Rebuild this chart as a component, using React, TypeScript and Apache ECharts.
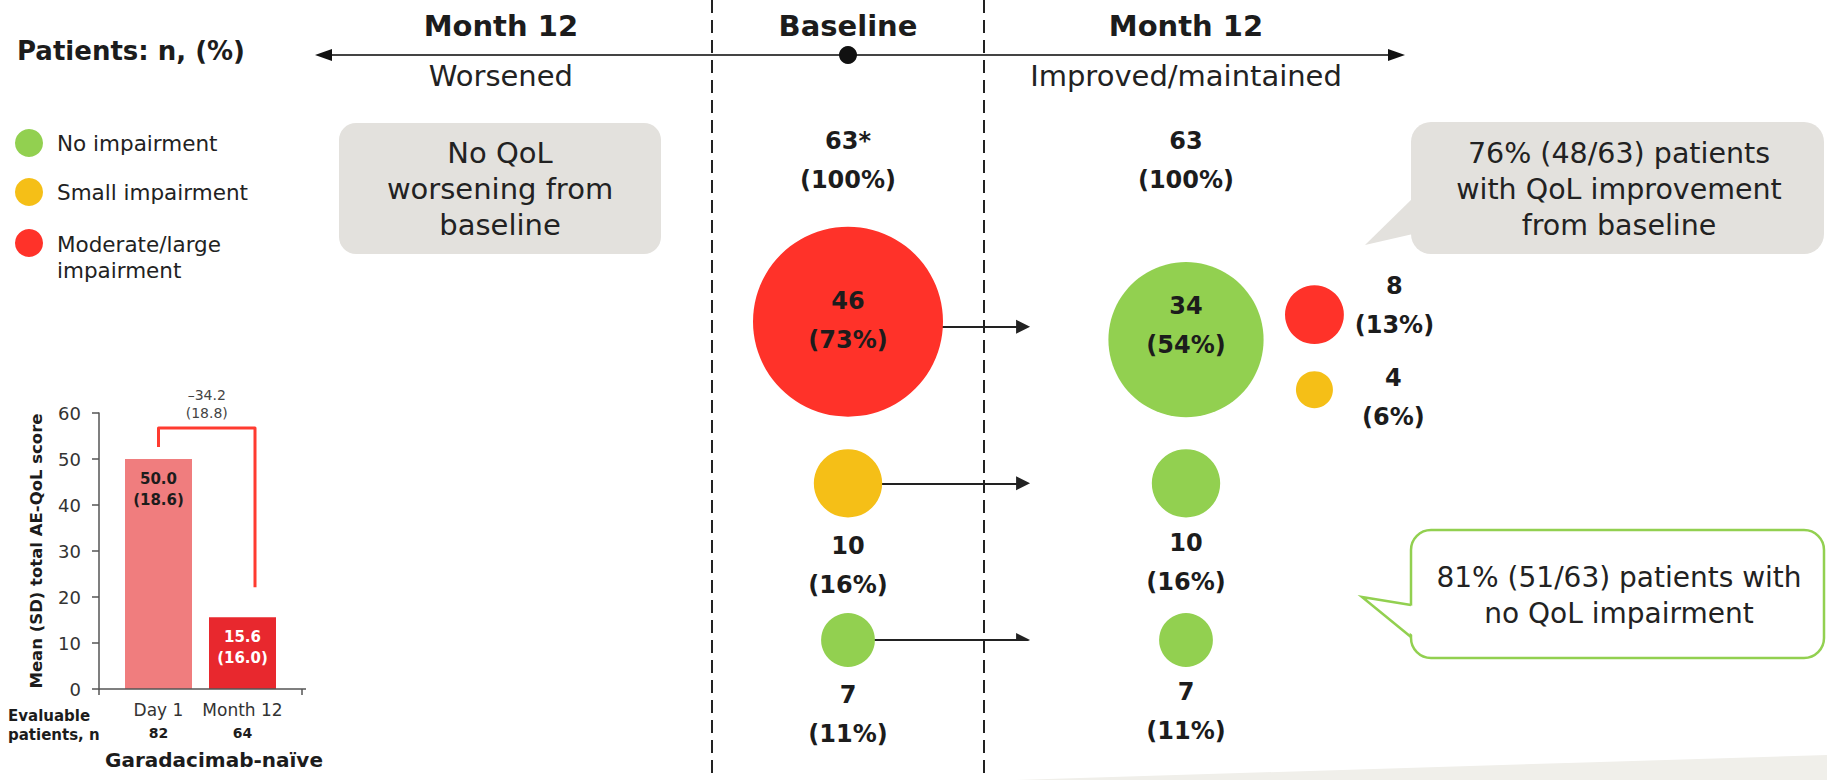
import React, { useEffect, useRef } from 'react';
import * as echarts from 'echarts';

const FONT = "'DejaVu Sans', 'Open Sans', sans-serif";
const INK = '#1c1c1c';

// ---------------- Data ----------------
const levelNames = ['No impairment', 'Small impairment', 'Moderate/large\nimpairment'];
const totalN = [63, 63];
const totalPct = [100, 100];
const totalMarks = ['*', ''];
// Baseline groups (rows): moderate/large, small, none
const baselineN = [46, 10, 7];
const baselinePct = [73, 16, 11];
const baselineLevel = [2, 1, 0];
// Month 12 outcomes
const month12N = [34, 8, 4, 10, 7];
const month12Pct = [54, 13, 6, 16, 11];
const month12Level = [0, 2, 1, 0, 0];
const month12FromGroup = [0, 0, 0, 1, 2];
// Bar chart
const barCategories = ['Day 1', 'Month 12'];
const barMeans = [50.0, 15.6];
const barSDs = [18.6, 16.0];
const evaluableN = [82, 64];
const changeMean = -34.2;
const changeSD = 18.8;
const yTicks = [0, 10, 20, 30, 40, 50, 60];

// ---------------- Layout / style ----------------
const levelColors = ['#92d050', '#f5bf17', '#ff3229'];
const barColors = ['#f07d7e', '#e8282e'];
const barLabelColors = [INK, '#ffffff'];
const GROUP_ROW = [1, 2, 3];
const M12_SIDE = [false, true, true, false, false];
const SIDE_X = 1.38;
const BASE_SYMBOL_OFFSET = [[0, -5], [0, 0], [0, 0]];
const BASE_LABEL_OFFSET = [[0, -1], [0, 82], [0, 74]];
const M12_SYMBOL_OFFSET = [[0, 13], [0, -12], [0, 63], [0, 0], [0, 0]];
const M12_LABEL_OFFSET = [[0, -14], [80, -9], [79, 8], [0, 79], [0, 71]];

const bubbleSize = (v: number[]) => 190 * Math.pow(v[2] / 46, 0.67);

const fmtPct = (n: number, p: number) => `${n}\n(${p}%)`;

function buildOption(): any {
  const bubbleLabel = {
    show: true,
    position: 'inside',
    color: INK,
    fontFamily: FONT,
    fontWeight: 'bold',
    fontSize: 24,
    lineHeight: 39,
  };
  const baselineData = baselineN.map((n, i) => ({
    value: [0, GROUP_ROW[i], n],
    symbolOffset: BASE_SYMBOL_OFFSET[i],
    itemStyle: { color: levelColors[baselineLevel[i]], opacity: 1 },
    label: { ...bubbleLabel, offset: BASE_LABEL_OFFSET[i], formatter: fmtPct(n, baselinePct[i]) },
  }));
  const m12Data = month12N.map((n, i) => ({
    value: [M12_SIDE[i] ? SIDE_X : 1, GROUP_ROW[month12FromGroup[i]], n],
    symbolOffset: M12_SYMBOL_OFFSET[i],
    itemStyle: { color: levelColors[month12Level[i]], opacity: 1 },
    label: { ...bubbleLabel, offset: M12_LABEL_OFFSET[i], formatter: fmtPct(n, month12Pct[i]) },
  }));
  const totalsData = totalN.map((n, i) => ({
    value: [i, 0, n],
    label: { ...bubbleLabel, offset: [0, -10], formatter: `${n}${totalMarks[i]}\n(${totalPct[i]}%)` },
  }));

  return {
    animation: false,
    textStyle: { fontFamily: FONT },
    grid: [
      { left: 116.5, top: 413, width: 168, height: 276 },
      { left: 679, top: 170, width: 676, height: 470 },
    ],
    xAxis: [
      {
        type: 'category',
        gridIndex: 0,
        data: barCategories,
        axisLine: { show: false },
        axisTick: { show: false },
        axisLabel: {
          margin: 9,
          interval: 0,
          formatter: (v: string, i: number) => `{a|${v}}\n{b|${evaluableN[i]}}`,
          rich: {
            a: { fontFamily: FONT, fontSize: 17, color: '#333', lineHeight: 23 },
            b: { fontFamily: FONT, fontSize: 14, fontWeight: 'bold', color: INK, lineHeight: 23 },
          },
        },
      },
      { type: 'value', gridIndex: 1, min: -0.5, max: 1.5, show: false },
    ],
    yAxis: [
      {
        type: 'value',
        gridIndex: 0,
        min: yTicks[0],
        max: yTicks[yTicks.length - 1],
        interval: 10,
        offset: 17.5,
        axisLine: { show: true, lineStyle: { color: '#555', width: 1.5 } },
        axisTick: { show: true, length: 7, lineStyle: { color: '#555', width: 1.5 } },
        axisLabel: { fontFamily: FONT, fontSize: 18, color: '#333', margin: 18 },
        splitLine: { show: false },
        name: 'Mean (SD) total AE-QoL score',
        nameLocation: 'middle',
        nameRotate: 90,
        nameGap: 54,
        nameTextStyle: { fontFamily: FONT, fontSize: 16.5, fontWeight: 'bold', color: INK },
      },
      { type: 'value', gridIndex: 1, min: 0, max: 3, inverse: true, show: false },
    ],
    series: [
      {
        type: 'bar',
        xAxisIndex: 0,
        yAxisIndex: 0,
        barWidth: 67,
        data: barMeans.map((v, i) => ({
          value: v,
          itemStyle: { color: barColors[i] },
          label: { color: barLabelColors[i] },
        })),
        label: {
          show: true,
          position: 'insideTop',
          distance: 9,
          fontFamily: FONT,
          fontWeight: 'bold',
          fontSize: 15,
          lineHeight: 21,
          formatter: (p: any) => `${barMeans[p.dataIndex].toFixed(1)}\n(${barSDs[p.dataIndex].toFixed(1)})`,
        },
      },
      {
        type: 'lines',
        coordinateSystem: 'cartesian2d',
        xAxisIndex: 1,
        yAxisIndex: 1,
        z: 1,
        symbol: ['none', 'triangle'],
        symbolSize: 14,
        lineStyle: { color: '#222', width: 1.8, opacity: 1 },
        data: GROUP_ROW.map((r) => ({ coords: [[0, r], [0.518, r]] })),
      },
      {
        type: 'scatter',
        xAxisIndex: 1,
        yAxisIndex: 1,
        z: 3,
        symbol: 'circle',
        symbolSize: bubbleSize,
        itemStyle: { opacity: 1 },
        data: [...baselineData, ...m12Data],
      },
      {
        type: 'scatter',
        xAxisIndex: 1,
        yAxisIndex: 1,
        z: 3,
        symbolSize: 1,
        itemStyle: { color: '#ffffff', opacity: 1 },
        data: totalsData,
      },
    ],
  };
}

function buildGraphics(chart: any): any[] {
  const g: any[] = [];
  const txt = (text: string, x: number, y: number, size: number, weight: string, extra: any = {}) => ({
    type: 'text',
    x,
    y,
    z: 10,
    style: {
      text,
      fontFamily: FONT,
      fontSize: size,
      fontWeight: weight,
      fill: INK,
      align: 'center',
      verticalAlign: 'middle',
      ...extra,
    },
  });

  const base = chart.convertToPixel({ gridIndex: 1 }, [0, 0]);
  const m12 = chart.convertToPixel({ gridIndex: 1 }, [1, 0]);
  const colGap = m12[0] - base[0];
  const leftCol = base[0] - colGap * 1.027;

  // background slanted band
  g.push({ type: 'polygon', z: 0, shape: { points: [[1016, 780], [1827, 755], [1827, 780]] }, style: { fill: '#f0efea' } });

  // dashed separators
  [base[0] - 136, base[0] + 136].forEach((x) =>
    g.push({ type: 'line', z: 0, shape: { x1: x, y1: 0, x2: x, y2: 780 }, style: { stroke: '#222', lineWidth: 2, lineDash: [13, 7] } })
  );

  // header timeline
  g.push({ type: 'line', shape: { x1: 328, y1: 55, x2: 1392, y2: 55 }, style: { stroke: '#444', lineWidth: 2 } });
  g.push({ type: 'polygon', shape: { points: [[315, 55], [332, 49], [332, 61]] }, style: { fill: '#111' } });
  g.push({ type: 'polygon', shape: { points: [[1405, 55], [1388, 49], [1388, 61]] }, style: { fill: '#111' } });
  g.push({ type: 'circle', shape: { cx: base[0], cy: 55, r: 9 }, style: { fill: '#111' } });
  g.push(txt('Month 12', leftCol, 26, 29, 'bold'));
  g.push(txt('Baseline', base[0], 26, 29, 'bold'));
  g.push(txt('Month 12', m12[0], 26, 29, 'bold'));
  g.push(txt('Worsened', leftCol, 76, 29, 'normal', { fill: '#222' }));
  g.push(txt('Improved/maintained', m12[0], 76, 29, 'normal', { fill: '#222' }));

  // title + legend
  g.push(txt('Patients: n, (%)', 17, 51, 26, 'bold', { align: 'left' }));
  const legendY = [143, 192, 243];
  levelNames.forEach((name, i) => {
    g.push({ type: 'circle', shape: { cx: 29, cy: legendY[i], r: 14 }, style: { fill: levelColors[i] } });
    const multi = name.includes('\n');
    g.push(txt(name, 57, legendY[i] + (multi ? 14.5 : 0), 21.5, 'normal', { align: 'left', lineHeight: 26, fill: '#222' }));
  });

  // "No worsening" box
  g.push({ type: 'rect', z: 1, shape: { x: 339, y: 123, width: 322, height: 131, r: 17 }, style: { fill: '#e3e1dd' } });
  g.push(txt('No QoL\nworsening from\nbaseline', 500, 189, 29, 'normal', { lineHeight: 36, fill: '#222' }));

  // callout 1
  g.push({ type: 'rect', z: 1, shape: { x: 1411, y: 122, width: 413, height: 132, r: 20 }, style: { fill: '#e3e1dd' } });
  g.push({ type: 'polygon', z: 1, shape: { points: [[1413, 198], [1365, 245], [1413, 234]] }, style: { fill: '#e3e1dd' } });
  g.push(txt('76% (48/63) patients\nwith QoL improvement\nfrom baseline', 1619, 189, 28.5, 'normal', { lineHeight: 36, fill: '#222' }));

  // callout 2
  g.push({ type: 'rect', z: 1, shape: { x: 1411, y: 530, width: 413, height: 128, r: 20 }, style: { fill: '#fff', stroke: '#92d050', lineWidth: 2.5 } });
  g.push({ type: 'polygon', z: 2, shape: { points: [[1362, 597], [1414, 606], [1414, 636]] }, style: { fill: '#fff' } });
  g.push({ type: 'polyline', z: 3, shape: { points: [[1411, 605], [1362, 597], [1411, 637]] }, style: { stroke: '#92d050', lineWidth: 2.5, fill: 'none' } });
  g.push(txt('81% (51/63) patients with\nno QoL impairment', 1619, 595, 28, 'normal', { lineHeight: 36, fill: '#222' }));

  // bar chart annotations
  const p1 = chart.convertToPixel({ gridIndex: 0 }, [0, barMeans[0]]);
  const p2 = chart.convertToPixel({ gridIndex: 0 }, [1, barMeans[1]]);
  const bx1 = p1[0];
  const bx2 = p2[0] + 12.5;
  const topY = p1[1] - 31;
  g.push({
    type: 'polyline',
    z: 5,
    shape: { points: [[bx1, p1[1] - 12], [bx1, topY], [bx2, topY], [bx2, p2[1] - 30]] },
    style: { stroke: '#ff3b30', lineWidth: 3, lineJoin: 'round', fill: 'none' },
  });
  const chg = `${changeMean < 0 ? '–' : ''}${Math.abs(changeMean).toFixed(1)}\n(${changeSD.toFixed(1)})`;
  g.push(txt(chg, (bx1 + bx2) / 2, topY - 24, 14, 'normal', { lineHeight: 18, fill: '#444' }));

  // x axis line of bar chart (extends past the bars)
  const o = chart.convertToPixel({ gridIndex: 0 }, [0, 0]);
  g.push({ type: 'line', z: 5, shape: { x1: 99, y1: o[1], x2: 306, y2: o[1] }, style: { stroke: '#555', lineWidth: 1.5 } });
  g.push({ type: 'line', z: 5, shape: { x1: 302, y1: o[1], x2: 302, y2: o[1] + 6 }, style: { stroke: '#555', lineWidth: 1.5 } });
  g.push({ type: 'line', z: 5, shape: { x1: 99, y1: o[1], x2: 99, y2: o[1] + 6 }, style: { stroke: '#555', lineWidth: 1.5 } });

  g.push(txt('Evaluable\npatients, n', 8, 725.5, 15, 'bold', { align: 'left', lineHeight: 19 }));
  g.push(txt('Garadacimab-naïve', 214, 760, 20, 'bold'));
  return g;
}

export default function App() {
  const ref = useRef<HTMLDivElement>(null);
  useEffect(() => {
    document.body.style.margin = '0';
    const chart = echarts.init(ref.current as HTMLDivElement, null, { renderer: 'svg' });
    chart.setOption(buildOption());
    chart.setOption({ graphic: buildGraphics(chart) });
    return () => chart.dispose();
  }, []);
  return <div ref={ref} style={{ width: 1827, height: 780, background: '#fff' }} />;
}
